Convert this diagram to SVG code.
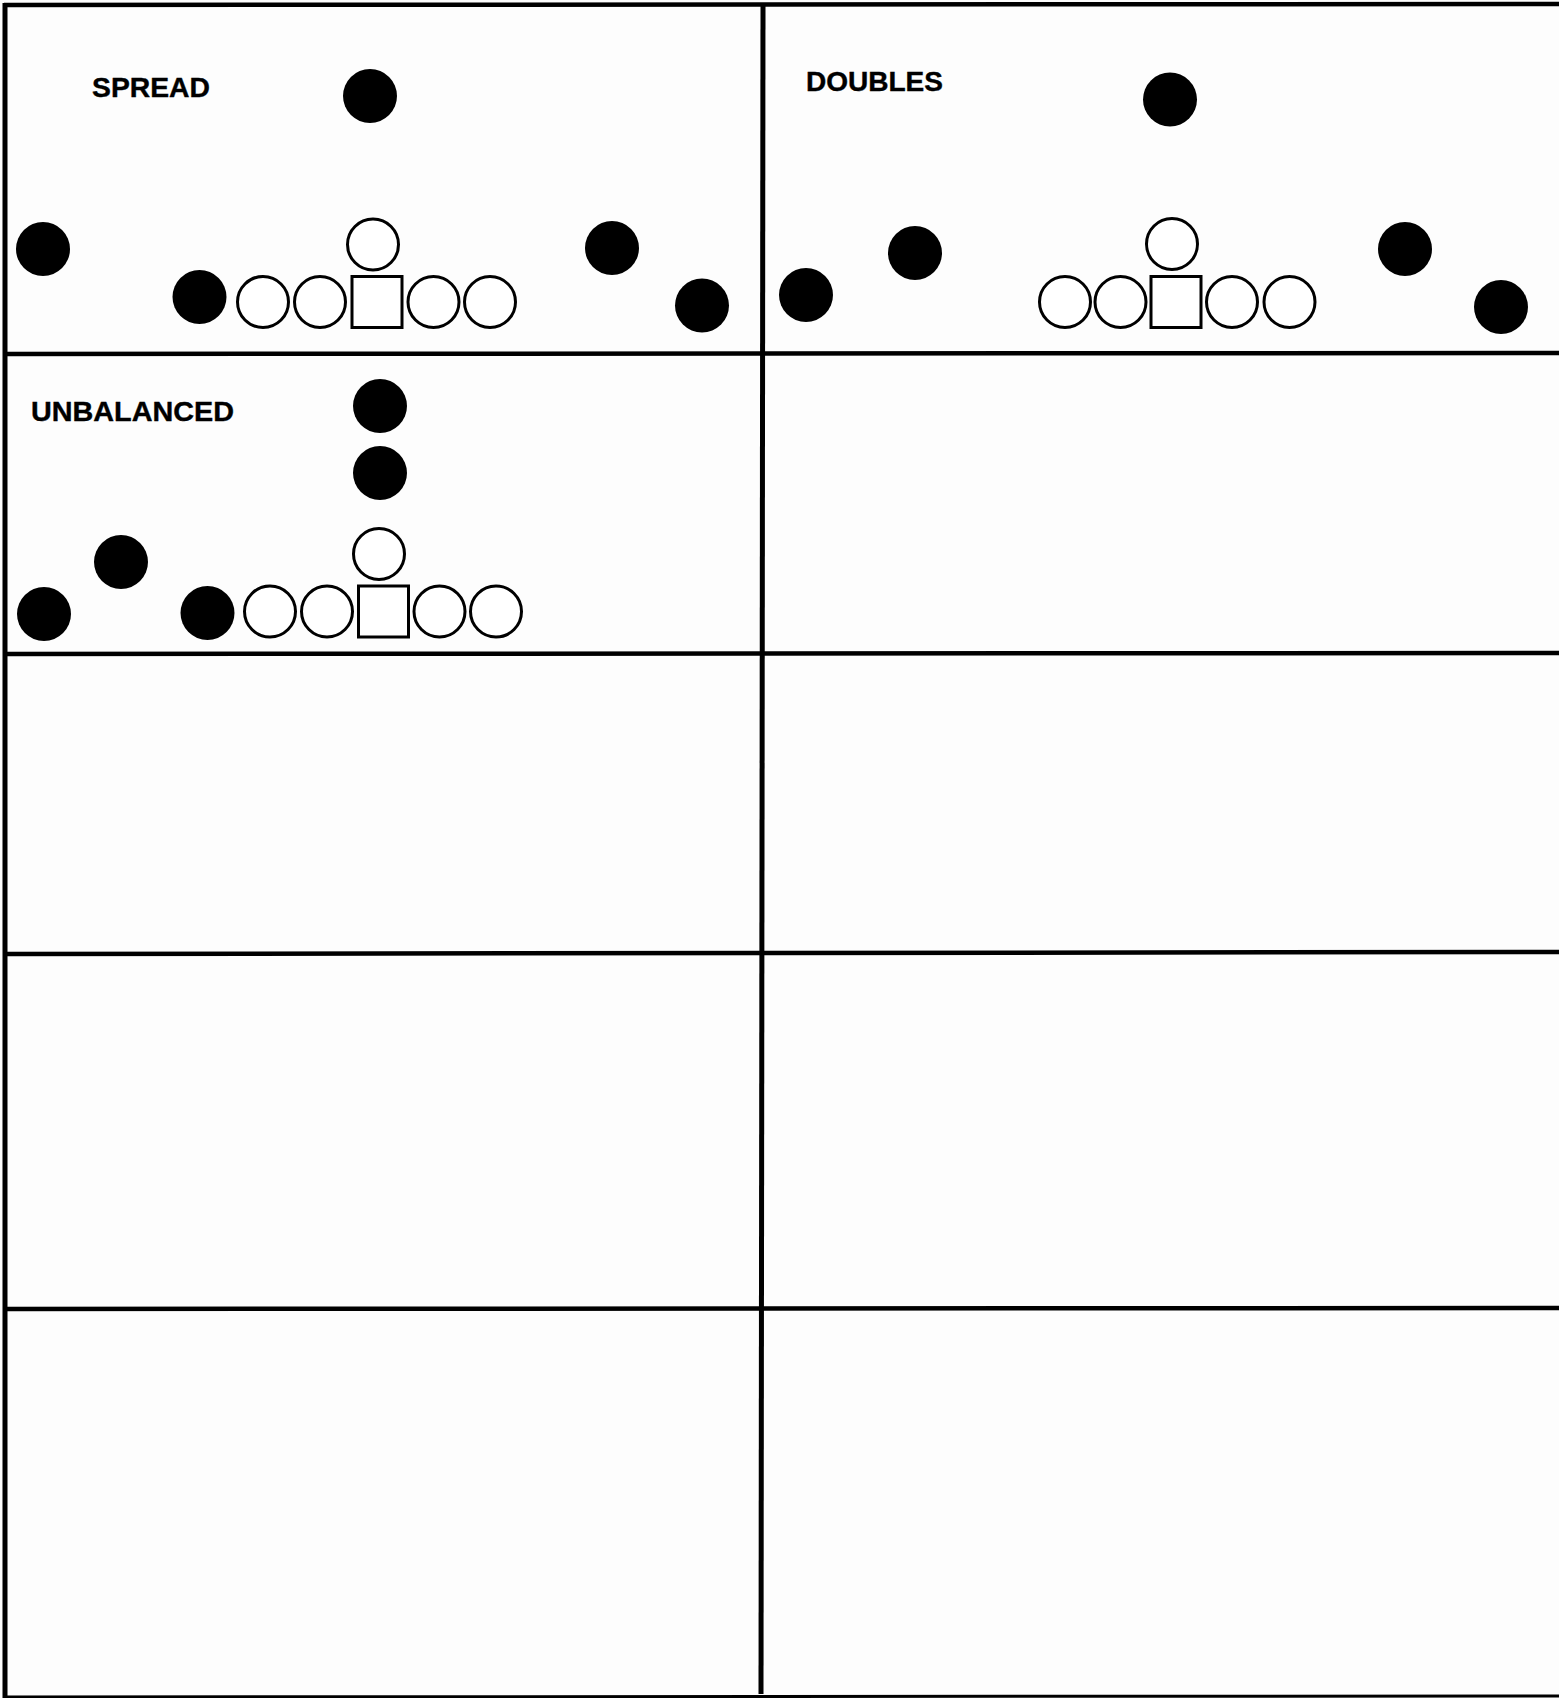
<svg xmlns="http://www.w3.org/2000/svg" width="1559" height="1698" viewBox="0 0 1559 1698">
<style>
.def{fill:#000}
.off{fill:#fff;stroke:#000;stroke-width:3}
.lbl{font-family:"Liberation Sans",Arial,sans-serif;font-weight:bold;font-size:28px;fill:#000;stroke:#000;stroke-width:0.4}
.grid line{stroke:#000;stroke-linecap:butt}
.h{stroke-width:4.5}
.v{stroke-width:5}
</style>
<rect width="1559" height="1698" fill="#fdfdfd"/>
<g id="grid" class="grid">
<line class="h" x1="4" y1="5" x2="1559" y2="4"/>
<line class="v" x1="5" y1="3" x2="5" y2="1698"/>
<line class="v" x1="763" y1="4" x2="761" y2="1694"/>
<line class="h" x1="4" y1="354" x2="1559" y2="353"/>
<line class="h" x1="4" y1="654" x2="1559" y2="653"/>
<line class="h" x1="4" y1="954" x2="1559" y2="952"/>
<line class="h" x1="4" y1="1309" x2="1559" y2="1308"/>
<line stroke-width="3" x1="4" y1="1697" x2="1559" y2="1696"/>
</g>
<g id="spread">
<g id="spread-label"><text class="lbl" x="92" y="97" textLength="118" lengthAdjust="spacingAndGlyphs">SPREAD</text></g>
<g id="spread-d1"><ellipse class="def" cx="370" cy="96" rx="27" ry="27"/></g>
<g id="spread-d2"><ellipse class="def" cx="43" cy="249" rx="27" ry="27"/></g>
<g id="spread-d3"><ellipse class="def" cx="199.5" cy="297" rx="27" ry="27"/></g>
<g id="spread-d4"><ellipse class="def" cx="612" cy="248" rx="27" ry="27"/></g>
<g id="spread-d5"><ellipse class="def" cx="702" cy="305.5" rx="27" ry="27"/></g>
<g id="spread-qb"><circle class="off" cx="373" cy="244.5" r="25.5"/></g>
<g id="spread-ol1"><circle class="off" cx="263" cy="302" r="25.5"/></g>
<g id="spread-ol2"><circle class="off" cx="320" cy="302" r="25.5"/></g>
<g id="spread-c"><rect class="off" x="352" y="276.5" width="50" height="51"/></g>
<g id="spread-ol4"><circle class="off" cx="433.5" cy="302" r="25.5"/></g>
<g id="spread-ol5"><circle class="off" cx="490" cy="302" r="25.5"/></g>
</g>
<g id="doubles">
<g id="doubles-label"><text class="lbl" x="806" y="91" textLength="137" lengthAdjust="spacingAndGlyphs">DOUBLES</text></g>
<g id="doubles-d1"><ellipse class="def" cx="1170" cy="99.5" rx="27" ry="27"/></g>
<g id="doubles-d2"><ellipse class="def" cx="806" cy="295" rx="27" ry="27"/></g>
<g id="doubles-d3"><ellipse class="def" cx="915" cy="253" rx="27" ry="27"/></g>
<g id="doubles-d4"><ellipse class="def" cx="1405" cy="249" rx="27" ry="27"/></g>
<g id="doubles-d5"><ellipse class="def" cx="1501" cy="307" rx="27" ry="27"/></g>
<g id="doubles-qb"><circle class="off" cx="1172" cy="244" r="25.5"/></g>
<g id="doubles-ol1"><circle class="off" cx="1065" cy="302" r="25.5"/></g>
<g id="doubles-ol2"><circle class="off" cx="1120.5" cy="302" r="25.5"/></g>
<g id="doubles-c"><rect class="off" x="1151" y="276.5" width="50" height="51"/></g>
<g id="doubles-ol4"><circle class="off" cx="1232" cy="302" r="25.5"/></g>
<g id="doubles-ol5"><circle class="off" cx="1289.5" cy="302" r="25.5"/></g>
</g>
<g id="unbalanced">
<g id="unbalanced-label"><text class="lbl" x="31" y="421" textLength="203" lengthAdjust="spacingAndGlyphs">UNBALANCED</text></g>
<g id="unbalanced-d1"><ellipse class="def" cx="380" cy="406" rx="27" ry="27"/></g>
<g id="unbalanced-d2"><ellipse class="def" cx="380" cy="473" rx="27" ry="27"/></g>
<g id="unbalanced-d3"><ellipse class="def" cx="121" cy="562" rx="27" ry="27"/></g>
<g id="unbalanced-d4"><ellipse class="def" cx="44" cy="614" rx="27" ry="27"/></g>
<g id="unbalanced-d5"><ellipse class="def" cx="207.5" cy="613" rx="27" ry="27"/></g>
<g id="unbalanced-qb"><circle class="off" cx="379" cy="554" r="25.5"/></g>
<g id="unbalanced-ol1"><circle class="off" cx="270" cy="611.5" r="25.5"/></g>
<g id="unbalanced-ol2"><circle class="off" cx="327" cy="611.5" r="25.5"/></g>
<g id="unbalanced-c"><rect class="off" x="358.5" y="586" width="50" height="51"/></g>
<g id="unbalanced-ol4"><circle class="off" cx="439.5" cy="611.5" r="25.5"/></g>
<g id="unbalanced-ol5"><circle class="off" cx="496" cy="611.5" r="25.5"/></g>
</g>
</svg>
